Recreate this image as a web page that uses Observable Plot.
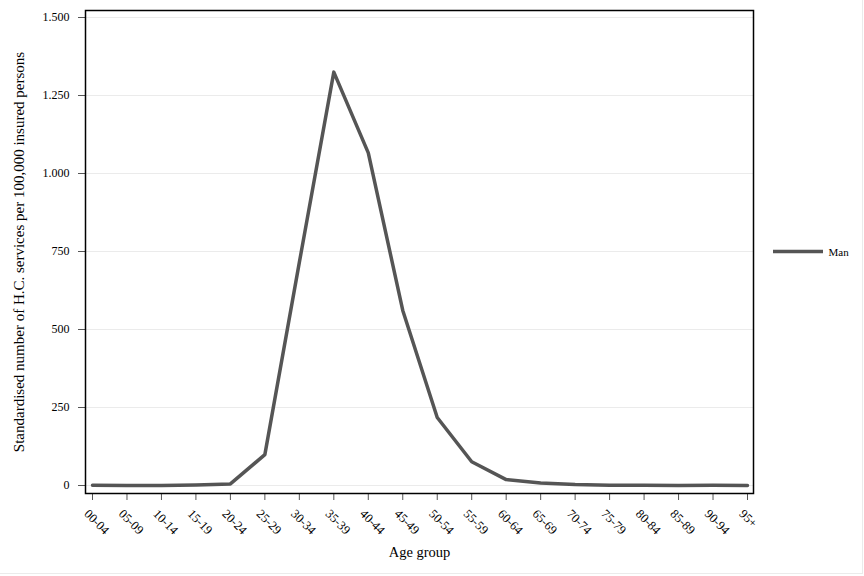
<!DOCTYPE html>
<html>
<head>
<meta charset="utf-8">
<script src="https://cdn.jsdelivr.net/npm/d3@7"></script>
<script src="https://cdn.jsdelivr.net/npm/@observablehq/plot@0.6"></script>
<style>
  body { margin: 0; background: #fff; }
  #wrap { position: relative; width: 864px; height: 576px; }
  #edge { position: absolute; left: 0; top: 0; width: 862px; height: 573px;
          border-right: 1px solid #ebebeb; border-bottom: 1px solid #ebebeb; pointer-events: none; }
</style>
</head>
<body>
<div id="wrap"><div id="edge"></div></div>
<script>
const ageGroups = ["00-04","05-09","10-14","15-19","20-24","25-29","30-34","35-39","40-44","45-49",
                   "50-54","55-59","60-64","65-69","70-74","75-79","80-84","85-89","90-94","95+"];
const manValues = [1, 0, 0, 2, 5, 99, 715, 1325, 1066, 561, 218, 76, 19, 8, 3, 1, 1, 0, 1, 0];
const yTicks = [0, 250, 500, 750, 1000, 1250, 1500];
const seriesName = "Man";
const yTitle = "Standardised number of H.C. services per 100,000 insured persons";
const xTitle = "Age group";

const data = ageGroups.map((a, i) => ({age: a, value: manValues[i], series: seriesName}));
const fmt = d => d3.format(",")(d).replace(/,/g, ".");
const lineColor = "#555555";

const chart = Plot.plot({
  width: 864,
  height: 576,
  marginLeft: 85,
  marginRight: 111,
  marginTop: 10,
  marginBottom: 83,
  style: {fontFamily: "'Liberation Serif', 'DejaVu Serif', serif", fontSize: "12px", color: "#000", background: "transparent"},
  x: {type: "point", domain: ageGroups, range: [92, 747], padding: 0, round: false},
  y: {domain: [0, 1500], range: [485, 17]},
  marks: [
    Plot.ruleY(yTicks, {stroke: "#ebebeb", strokeWidth: 1}),
    Plot.axisY({ticks: yTicks, tickSize: 7, tickPadding: 9, tickFormat: fmt, stroke: "#555", label: null, fontSize: 12}),
    Plot.axisX({ticks: ageGroups, tickSize: 7, tickFormat: () => "", stroke: "#555", label: null}),
    Plot.text(ageGroups, {x: d => d, frameAnchor: "bottom", textAnchor: "start", lineAnchor: "bottom",
                          rotate: 45, dx: -9, dy: 21, fontSize: 12.5}),
    Plot.line(data, {x: "age", y: "value", stroke: lineColor, strokeWidth: 3.5}),
    Plot.frame({stroke: "#000", strokeWidth: 1.5}),
    Plot.text([yTitle], {frameAnchor: "left", textAnchor: "middle", rotate: -90, dx: -66, fontSize: 15,
                         style: "letter-spacing:0.4px"}),
    Plot.text([xTitle], {frameAnchor: "bottom", dy: 63, fontSize: 14.5}),
    (index, scales, values, dims) => {
      const yMid = (dims.marginTop + dims.height - dims.marginBottom) / 2;
      const x0 = dims.width - dims.marginRight;
      return d3.create("svg:line")
        .attr("x1", x0 + 20).attr("x2", x0 + 70)
        .attr("y1", yMid).attr("y2", yMid)
        .attr("stroke", lineColor).attr("stroke-width", 3.5)
        .node();
    },
    Plot.text([seriesName], {frameAnchor: "right", dx: 75, textAnchor: "start", fontSize: 11})
  ]
});
document.getElementById("wrap").prepend(chart);
</script>
</body>
</html>
